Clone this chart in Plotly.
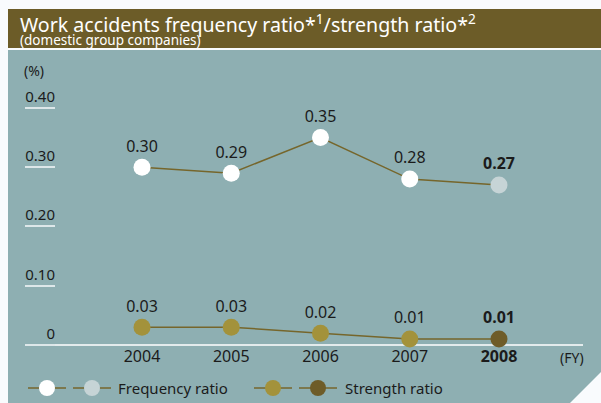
import plotly.graph_objects as go

# ---- data ----
years = [2004, 2005, 2006, 2007, 2008]
frequency_ratio = [0.30, 0.29, 0.35, 0.28, 0.27]
strength_ratio = [0.03, 0.03, 0.02, 0.01, 0.01]
y_tick_vals = [0, 0.10, 0.20, 0.30, 0.40]
y_tick_text = ["0", "0.10", "0.20", "0.30", "0.40"]
x_tick_text = ["2004", "2005", "2006", "2007", "<b>2008</b>"]

W, H = 601, 403
ML, MR, MT, MB = 56, 18, 60, 58
PW, PH = W - ML - MR, H - MT - MB

def px(x):
    return (x - ML) / PW

def py(y):
    return (H - MB - y) / PH

FONT = "Noto Sans"
LINE_C = "#76662b"
TXT_C = "#1b1b1b"
PANEL_C = "#8eafb2"
HEAD_C = "#6c5c28"
F_COL, F_LAST = "#ffffff", "#c6d4d6"
S_COL, S_LAST = "#a3923b", "#6e5c28"

def labels(vals):
    out = [f"{v:.2f}" for v in vals]
    out[-1] = f"<b>{out[-1]}</b>"
    return out

fig = go.Figure()
fig.add_trace(go.Scatter(
    x=years, y=frequency_ratio, mode="lines+markers+text",
    line=dict(color=LINE_C, width=1.5),
    marker=dict(size=17, color=[F_COL] * 4 + [F_LAST], line=dict(width=0)),
    text=labels(frequency_ratio), textposition="top center",
    textfont=dict(size=16, color=TXT_C, family=FONT),
    cliponaxis=False, showlegend=False, name="Frequency ratio"))
fig.add_trace(go.Scatter(
    x=years, y=strength_ratio, mode="lines+markers+text",
    line=dict(color=LINE_C, width=1.5),
    marker=dict(size=17, color=[S_COL] * 4 + [S_LAST], line=dict(width=0)),
    text=labels(strength_ratio), textposition="top center",
    textfont=dict(size=16, color=TXT_C, family=FONT),
    cliponaxis=False, showlegend=False, name="Strength ratio"))

shapes = []
# header band
shapes.append(dict(type="rect", xref="paper", yref="paper", layer="below",
                   x0=px(8), x1=px(601), y0=py(48), y1=py(9),
                   fillcolor=HEAD_C, line=dict(width=0)))
# panel with cut corner
path = (f"M {px(8)},{py(50)} L {px(601)},{py(50)} L {px(601)},{py(372)} "
        f"L {px(570)},{py(403)} L {px(8)},{py(403)} Z")
shapes.append(dict(type="path", xref="paper", yref="paper", layer="below",
                   path=path, fillcolor=PANEL_C, line=dict(width=0)))
# baseline
shapes.append(dict(type="line", xref="paper", yref="paper", layer="below",
                   x0=px(25), x1=px(583), y0=py(345), y1=py(345),
                   line=dict(color="white", width=1.5)))

# legend (drawn)
LY = 388
def seg(x0, x1, col):
    shapes.append(dict(type="line", xref="paper", yref="paper",
                       x0=px(x0), x1=px(x1), y0=py(LY), y1=py(LY),
                       line=dict(color=col, width=1.5)))

def dot(cx, col):
    shapes.append(dict(type="circle", xref="paper", yref="paper",
                       xsizemode="pixel", ysizemode="pixel",
                       xanchor=px(cx), yanchor=py(LY),
                       x0=-8, x1=8, y0=-8, y1=8,
                       fillcolor=col, line=dict(width=0)))

for cx, col in [(47, F_COL), (92, F_LAST), (273, S_COL), (318, S_LAST)]:
    seg(cx - 19, cx + 19, LINE_C)
for cx, col in [(47, F_COL), (92, F_LAST), (273, S_COL), (318, S_LAST)]:
    dot(cx, col)

annotations = [
    dict(text="Work accidents frequency ratio*<sup>1</sup>/strength ratio*<sup>2</sup>",
         xref="paper", yref="paper", x=px(19), y=py(23), xanchor="left", yanchor="middle",
         showarrow=False, borderpad=0, font=dict(size=19.6, color="white", family=FONT)),
    dict(text="(domestic group companies)",
         xref="paper", yref="paper", x=px(19), y=py(40), xanchor="left", yanchor="middle",
         showarrow=False, borderpad=0, font=dict(size=13.5, color="white", family=FONT)),
    dict(text="(%)", xref="paper", yref="paper", x=px(22), y=py(70), xanchor="left",
         yanchor="middle", showarrow=False, font=dict(size=14, color=TXT_C, family=FONT)),
    dict(text="(FY)", xref="paper", yref="paper", x=px(572), y=py(357), xanchor="center",
         yanchor="middle", showarrow=False, font=dict(size=14, color=TXT_C, family=FONT)),
    dict(text="Frequency ratio", xref="paper", yref="paper", x=px(116), y=py(LY),
         xanchor="left", yanchor="middle", showarrow=False,
         font=dict(size=15, color=TXT_C, family=FONT)),
    dict(text="Strength ratio", xref="paper", yref="paper", x=px(343), y=py(LY),
         xanchor="left", yanchor="middle", showarrow=False,
         font=dict(size=15, color=TXT_C, family=FONT)),
]

x_lo = 2004 - (142 - ML) / 89.25
x_hi = 2004 + (ML + PW - 142) / 89.25
y_hi = (H - MB - MT) / 592.6

fig.update_layout(
    width=W, height=H, margin=dict(l=ML, r=MR, t=MT, b=MB, pad=0),
    paper_bgcolor="#f9fbfd", plot_bgcolor="rgba(0,0,0,0)",
    font=dict(family=FONT, color=TXT_C),
    shapes=shapes, annotations=annotations, showlegend=False,
    xaxis=dict(range=[x_lo, x_hi], tickvals=years, ticktext=x_tick_text,
               showgrid=False, zeroline=False, showline=False, ticks="",
               tickfont=dict(size=16, color=TXT_C, family=FONT)),
    yaxis=dict(range=[0, y_hi], tickvals=y_tick_vals, ticktext=y_tick_text,
               showgrid=False, zeroline=False, showline=False,
               ticks="outside", ticklen=30, tickwidth=1.5, tickcolor="#dde7e9",
               ticklabelposition="outside top", ticklabelstandoff=-3,
               tickfont=dict(size=15, color=TXT_C, family=FONT)),
)

fig.write_html("out.html", config={"displayModeBar": False},
               post_script="document.body.style.margin='0';document.body.style.background='#f9fbfd';")
